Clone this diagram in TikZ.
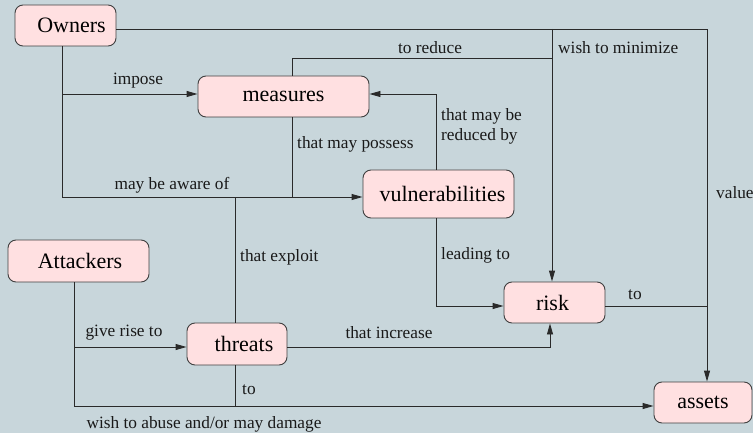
\documentclass[tikz,border=0pt]{standalone}
\usepackage{fontspec}
\setmainfont{Liberation Serif}
\usetikzlibrary{arrows.meta}
\definecolor{bgc}{HTML}{C8D6DB}
\definecolor{boxfill}{HTML}{FFE0E1}
\definecolor{boxline}{HTML}{404040}
\definecolor{linec}{HTML}{2A2A2A}
\tikzset{
  box/.style={draw=boxline, fill=boxfill, line width=0.9pt, rounded corners=8pt,
    inner sep=0pt, font=\fontsize{22}{26}\selectfont},
  conn/.style={draw=linec, line width=0.9pt},
  arr/.style={conn, -{Triangle[length=11pt,width=6pt]}},
  lab/.style={font=\fontsize{17.3}{20}\selectfont, inner sep=0pt, text=black!90}
}
\begin{document}
\begin{tikzpicture}[x=1pt,y=-1pt]
\fill[bgc] (0,0) rectangle (753,433);
\useasboundingbox (0,0) rectangle (753,433);

% nodes
\node[box, minimum width=101pt, minimum height=41pt] (owners) at (65.5,25.5) {\hspace*{12pt}Owners};
\node[box, minimum width=171pt, minimum height=41pt] (measures) at (283.5,96.5) {measures};
\node[box, minimum width=151pt, minimum height=48pt] (vuln) at (438.5,194) {\hspace*{8pt}vulnerabilities};
\node[box, minimum width=141pt, minimum height=42pt] (attackers) at (78.5,261) {\hspace*{3pt}Attackers};
\node[box, minimum width=100pt, minimum height=42pt] (threats) at (237,344) {\hspace*{14pt}threats};
\node[box, minimum width=101pt, minimum height=41pt] (risk) at (554.5,302.5) {risk\hspace*{4pt}};
\node[box, minimum width=98pt, minimum height=41pt] (assets) at (703,402.5) {assets};

% coordinates
\coordinate (cTR) at (707,29);
\coordinate (cWM) at (552,29);
\coordinate (cO1) at (62.5,94);
\coordinate (cO2) at (62.5,197);
\coordinate (cM1) at (292,58);
\coordinate (cM2) at (552,58);
\coordinate (cV1) at (436,94);
\coordinate (cV2) at (436,306);
\coordinate (cT1) at (235,197);
\coordinate (cT2) at (235,406);
\coordinate (cT3) at (550,347);
\coordinate (cA1) at (74,347);
\coordinate (cA2) at (74,406);
\coordinate (cR) at (707,306);

% connectors
\draw[arr] (owners.east |- cTR) -- (cTR) -- (cTR |- assets.north);
\draw[arr] (cWM) -- (cWM |- risk.north);
\draw[arr] (owners.south -| cO2) -- (cO2) -- (cO2 -| vuln.west);
\draw[arr] (cO1) -- (cO1 -| measures.west);
\draw[conn] (measures.north -| cM1) -- (cM1) -- (cM2);
\draw[conn] (measures.south -| cM1) -- (cM1 |- cO2);
\draw[arr] (vuln.north -| cV1) -- (cV1) -- (cV1 -| measures.east);
\draw[arr] (vuln.south -| cV2) -- (cV2) -- (cV2 -| risk.west);
\draw[conn] (threats.north -| cT1) -- (cT1);
\draw[arr] (attackers.south -| cA2) -- (cA2) -- (cA2 -| assets.west);
\draw[arr] (cA1) -- (cA1 -| threats.west);
\draw[conn] (threats.south -| cT2) -- (cT2);
\draw[arr] (threats.east |- cT3) -- (cT3) -- (cT3 |- risk.south);
\draw[conn] (risk.east |- cR) -- (cR);

% labels
\node[lab] (l1) at (138,81) {impose};
\node[lab] (l2) at (172,185) {may be aware of};
\node[lab, anchor=west] (l3) at (297,144) {that may possess};
\node[lab] (l4) at (430,48) {to reduce};
\node[lab, anchor=west] (l5) at (558,48) {wish to minimize};
\node[lab, anchor=west, align=left, font=\fontsize{17.3}{20}\selectfont] (l6) at (441,126) {that may be\\reduced by};
\node[lab, anchor=west] (l7) at (716,193) {value};
\node[lab, anchor=west] (l8) at (240,257) {that exploit};
\node[lab, anchor=west] (l9) at (441,255) {leading to};
\node[lab] (l10) at (124,333) {give rise to};
\node[lab] (l11) at (389,333) {that increase};
\node[lab, anchor=west] (l12) at (628,295) {to};
\node[lab, anchor=west] (l13) at (242,390) {to};
\node[lab] (l14) at (204,424) {wish to abuse and/or may damage};
\end{tikzpicture}
\end{document}
